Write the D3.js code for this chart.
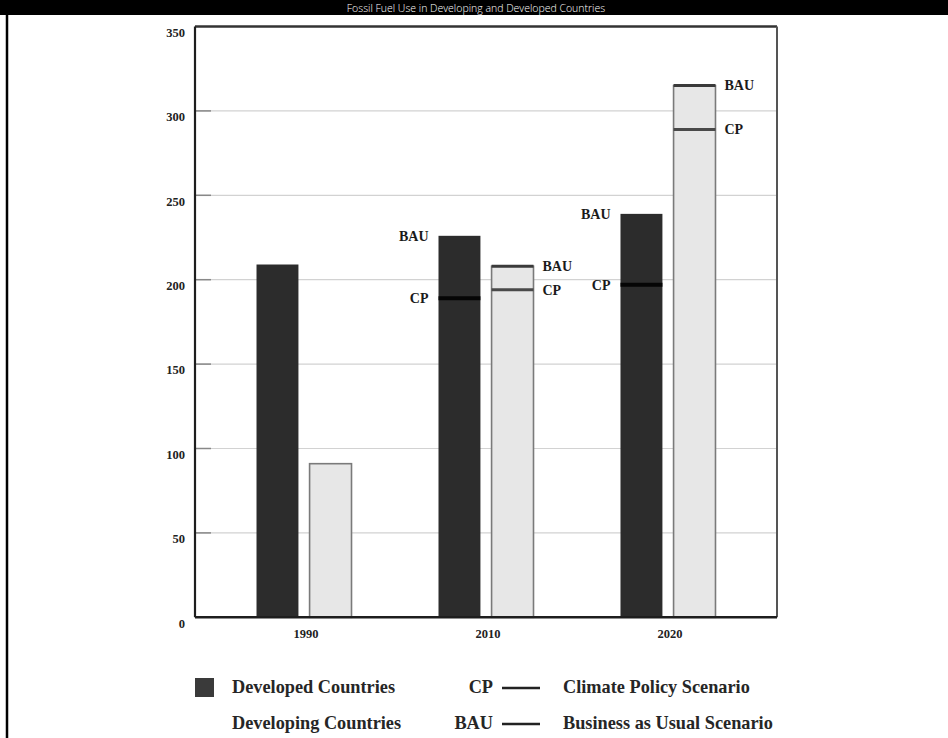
<!DOCTYPE html>
<html>
<head>
<meta charset="utf-8">
<script src="https://cdn.jsdelivr.net/npm/d3@7"></script>
<style>
  body { margin: 0; background: #fff; }
  svg { display: block; }
</style>
</head>
<body>
<svg id="chart" width="948" height="738"></svg>
<script>
// Chart data (units as on the y axis)
var years = ["1990", "2010", "2020"];
var groups = ["developed", "developing"];
var developedBAU = [209, 226, 239];
var developedCP = [null, 189, 197];
var developingBAU = [91, 208, 315];
var developingCP = [null, 194, 289];
var yTicks = [0, 50, 100, 150, 200, 250, 300, 350];

var title = "Fossil Fuel Use in Developing and Developed Countries";
var legendRows = [
  { swatch: "developed", label: "Developed Countries", code: "CP", scenario: "Climate Policy Scenario" },
  { swatch: "developing", label: "Developing Countries", code: "BAU", scenario: "Business as Usual Scenario" },
];

var serif = "'Liberation Serif', 'Times New Roman', serif";
var darkFill = "#2c2c2c";
var lightFill = "#e7e7e7";

var svg = d3.select("#chart");

// title band
svg.append("rect").attr("x", 0).attr("y", 0).attr("width", 948).attr("height", 15).attr("fill", "#000");
svg.append("text")
  .attr("x", 476)
  .attr("y", 12)
  .attr("text-anchor", "middle")
  .attr("fill", "#fff")
  .style("font-family", "'Open Sans', sans-serif")
  .style("font-weight", 300)
  .style("font-size", "10.5px")
  .text(title);

// left page border
svg.append("line").attr("x1", 7).attr("x2", 7).attr("y1", 15).attr("y2", 738)
  .attr("stroke", "#000").attr("stroke-width", 2.5);

var plot = { left: 195, right: 777, top: 26.5, bottom: 617.3 };

var x0 = d3.scaleBand()
  .domain(years)
  .range([plot.left, plot.right])
  .paddingInner(0.478)
  .paddingOuter(0.338);

var x1 = d3.scaleBand()
  .domain(groups)
  .range([0, x0.bandwidth()])
  .paddingInner(0.21);

var y = d3.scaleLinear().domain([0, 350]).range([plot.bottom, plot.top]);

// gridlines
var grid = svg.append("g");
grid.selectAll("line.grid")
  .data(yTicks.filter((d) => d > 0 && d < 350))
  .enter()
  .append("line")
  .attr("x1", plot.left)
  .attr("x2", plot.right)
  .attr("y1", (d) => y(d))
  .attr("y2", (d) => y(d))
  .attr("stroke", "#d2d2d2")
  .attr("stroke-width", 1.2);
grid.selectAll("line.tick")
  .data(yTicks.filter((d) => d > 0 && d < 350))
  .enter()
  .append("line")
  .attr("x1", plot.left)
  .attr("x2", plot.left + 16)
  .attr("y1", (d) => y(d))
  .attr("y2", (d) => y(d))
  .attr("stroke", "#888")
  .attr("stroke-width", 1.5);

// y tick labels (sit a little below their lines, as in the scan)
svg.append("g")
  .selectAll("text")
  .data(yTicks)
  .enter()
  .append("text")
  .attr("x", 185)
  .attr("y", (d) => y(d) + 6)
  .attr("dy", "0.35em")
  .attr("text-anchor", "end")
  .attr("fill", "#222")
  .style("font-family", serif)
  .style("font-weight", "bold")
  .style("font-size", "12.5px")
  .text((d) => d);

// bars
var rows = years.map((yr, i) => ({
  year: yr,
  developed: { bau: developedBAU[i], cp: developedCP[i] },
  developing: { bau: developingBAU[i], cp: developingCP[i] },
}));

var bw = x1.bandwidth();
var yearG = svg.append("g")
  .selectAll("g")
  .data(rows)
  .enter()
  .append("g")
  .attr("transform", (d) => `translate(${x0(d.year)},0)`);

// developed: solid dark bar with black CP band
yearG.append("rect")
  .attr("x", x1("developed"))
  .attr("y", (d) => y(d.developed.bau))
  .attr("width", bw)
  .attr("height", (d) => y(0) - y(d.developed.bau))
  .attr("fill", darkFill);
yearG.filter((d) => d.developed.cp != null)
  .append("line")
  .attr("x1", x1("developed"))
  .attr("x2", x1("developed") + bw)
  .attr("y1", (d) => y(d.developed.cp))
  .attr("y2", (d) => y(d.developed.cp))
  .attr("stroke", "#050505")
  .attr("stroke-width", 4);

// developing: light outlined bar, BAU line on top and CP line inside
yearG.append("rect")
  .attr("x", x1("developing"))
  .attr("y", (d) => y(d.developing.bau))
  .attr("width", bw)
  .attr("height", (d) => y(0) - y(d.developing.bau))
  .attr("fill", lightFill)
  .attr("stroke", "#7a7a7a")
  .attr("stroke-width", 1.6);
yearG.filter((d) => d.developing.cp != null)
  .append("line")
  .attr("x1", x1("developing"))
  .attr("x2", x1("developing") + bw)
  .attr("y1", (d) => y(d.developing.bau))
  .attr("y2", (d) => y(d.developing.bau))
  .attr("stroke", "#3a3a3a")
  .attr("stroke-width", 3);
yearG.filter((d) => d.developing.cp != null)
  .append("line")
  .attr("x1", x1("developing"))
  .attr("x2", x1("developing") + bw)
  .attr("y1", (d) => y(d.developing.cp))
  .attr("y2", (d) => y(d.developing.cp))
  .attr("stroke", "#4a4a4a")
  .attr("stroke-width", 3);

// BAU / CP markers beside the scenario bars
function marker(sel, group, key, text) {
  var left = group == "developed";
  sel.filter((d) => d[group].cp != null)
    .append("text")
    .attr("x", left ? x1(group) - 10 : x1(group) + bw + 9)
    .attr("y", (d) => y(d[group][key]))
    .attr("dy", "0.35em")
    .attr("text-anchor", left ? "end" : "start")
    .attr("fill", "#1a1a1a")
    .style("font-family", serif)
    .style("font-weight", "bold")
    .style("font-size", "14px")
    .text(text);
}
marker(yearG, "developed", "bau", "BAU");
marker(yearG, "developed", "cp", "CP");
marker(yearG, "developing", "bau", "BAU");
marker(yearG, "developing", "cp", "CP");

// plot frame
var frame = svg.append("g").attr("fill", "none");
frame.append("line").attr("x1", plot.left).attr("x2", plot.right).attr("y1", plot.top).attr("y2", plot.top)
  .attr("stroke", "#333").attr("stroke-width", 2.4);
frame.append("line").attr("x1", plot.right).attr("x2", plot.right).attr("y1", plot.top).attr("y2", plot.bottom)
  .attr("stroke", "#555").attr("stroke-width", 2);
frame.append("line").attr("x1", plot.left).attr("x2", plot.left).attr("y1", plot.top).attr("y2", plot.bottom)
  .attr("stroke", "#1e1e1e").attr("stroke-width", 2.2);
frame.append("line").attr("x1", plot.left).attr("x2", plot.right).attr("y1", plot.bottom).attr("y2", plot.bottom)
  .attr("stroke", "#1e1e1e").attr("stroke-width", 2.6);

// x labels
svg.append("g")
  .selectAll("text")
  .data(years)
  .enter()
  .append("text")
  .attr("x", (d) => x0(d) + x0.bandwidth() / 2 + 2)
  .attr("y", 638)
  .attr("text-anchor", "middle")
  .attr("fill", "#222")
  .style("font-family", serif)
  .style("font-weight", "bold")
  .style("font-size", "12.5px")
  .text((d) => d);

// legend
var legend = svg.append("g")
  .style("font-family", serif)
  .style("font-weight", "bold")
  .style("font-size", "18.3px")
  .attr("fill", "#262626");
var lg = legend.selectAll("g")
  .data(legendRows)
  .enter()
  .append("g")
  .attr("transform", (d, i) => `translate(0,${693 + i * 36})`);
lg.append("rect")
  .attr("x", 195)
  .attr("y", -15)
  .attr("width", 19)
  .attr("height", 19)
  .attr("fill", (d) => (d.swatch == "developed" ? "#3a3a3a" : "#fff"));
lg.append("text").attr("x", 232).text((d) => d.label);
lg.append("text").attr("x", 493).attr("text-anchor", "end").text((d) => d.code);
lg.append("line")
  .attr("x1", 502).attr("x2", 540).attr("y1", -5).attr("y2", -5)
  .attr("stroke", "#222").attr("stroke-width", 2.5);
lg.append("text").attr("x", 563).text((d) => d.scenario);
</script>
</body>
</html>
